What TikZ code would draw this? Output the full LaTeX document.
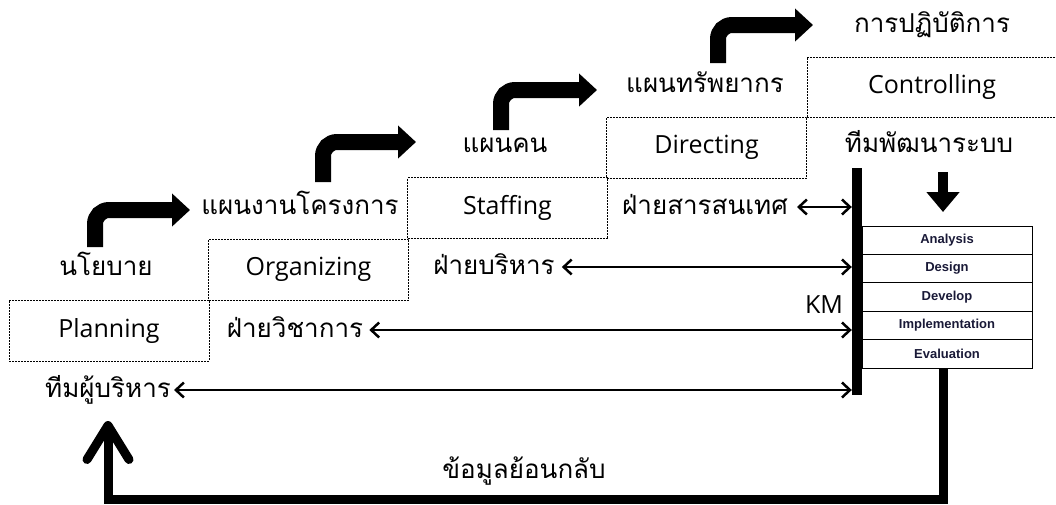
\documentclass[tikz,border=0pt]{standalone}
\usepackage{fontspec}
\setmainfont{Open Sans}
\newfontfamily\thaifont[Script=Thai]{Loma}
\newfontfamily\boxfont{Liberation Sans}
\usetikzlibrary{arrows.meta,positioning}
\definecolor{boxtext}{RGB}{25,25,55}
\tikzset{
  stage/.style={draw, dash pattern=on 2pt off 1pt, line width=0.8pt,
    minimum width=200pt, minimum height=61pt, inner sep=0pt,
    font=\fontsize{25}{30}\selectfont},
  thai/.style={inner sep=3pt, text height=21pt, text depth=7pt,
    font=\thaifont\fontsize{26}{31}\selectfont},
  phase/.style={draw, line width=1pt, minimum width=170pt, minimum height=28.4pt,
    inner sep=0pt, outer sep=0pt, text=boxtext,
    font=\boxfont\bfseries\fontsize{13}{15}\selectfont},
  bent/.style={line width=16pt, rounded corners=14pt,
    -{Triangle[length=18pt,width=32pt]}},
  link/.style={line width=2.5pt,
    {Straight Barb[length=8pt,width=15pt]}-{Straight Barb[length=8pt,width=15pt]}},
}
\begin{document}
\begin{tikzpicture}[x=1pt,y=-1pt]
\useasboundingbox (0,0) rectangle (1056,504);
% the staircase
\node[stage] (planning) at (109,330.5) {Planning};
\node[stage] (organizing) at (308.5,269.5) {Organizing};
\node[stage] (staffing) at (507.5,208) {Staffing};
\node[stage] (directing) at (706.5,147.5) {Directing};
\node[stage, minimum width=250pt, minimum height=60pt] (controlling) at (932,87) {Controlling};
% plans above the steps
\node[thai] (policy) at (106,268) {นโยบาย};
\node[thai] (project) at (300,207) {แผนงานโครงการ};
\node[thai] (manpower) at (505,145) {แผนคน};
\node[thai] (resource) at (705,85) {แผนทรัพยากร};
\node[thai] (operation) at (932,25) {การปฏิบัติการ};
\coordinate (s1) at (95,247);  \coordinate (e1) at (190,210);
\coordinate (s2) at (323,182); \coordinate (e2) at (416,142);
\coordinate (s3) at (501,130); \coordinate (e3) at (597,90);
\coordinate (s4) at (718,63);  \coordinate (e4) at (813,25);
\draw[bent] (s1) |- (e1);
\draw[bent] (s2) |- (e2);
\draw[bent] (s3) |- (e3);
\draw[bent] (s4) |- (e4);
% departments and KM
\node[thai] (infodept) at (705,207) {ฝ่ายสารสนเทศ};
\node[thai] (admindept) at (494,267) {ฝ่ายบริหาร};
\node[thai] (acaddept) at (295,330) {ฝ่ายวิชาการ};
\node[thai] (exec) at (108,390) {ทีมผู้บริหาร};
\node[fill, minimum width=10pt, minimum height=227pt, inner sep=0pt] (km) at (857,281.5) {};
\node[font=\fontsize{25}{30}\selectfont] (kmlabel) at (824,305) {KM};
\draw[link, shorten <=6pt] (infodept.east) -- (infodept.east -| km.west);
\draw[link, shorten <=4pt] (admindept.east) -- (admindept.east -| km.west);
\draw[link, shorten <=3pt] (acaddept.east) -- (acaddept.east -| km.west);
\draw[link] (exec.east) -- (exec.east -| km.west);
% system development
\node[thai] (devteam) at (929,145) {ทีมพัฒนาระบบ};
\node[phase] (analysis) at (947,240.2) {Analysis};
\node[phase, below=0pt of analysis] (design) {Design};
\node[phase, below=0pt of design] (develop) {Develop};
\node[phase, below=0pt of develop] (implement) {Implementation};
\node[phase, below=0pt of implement] (evaluation) {Evaluation};
\draw[line width=10pt, -{Triangle[length=20pt,width=32pt]}]
  ([xshift=-4pt,yshift=54pt]analysis.north) -- ([xshift=-4pt,yshift=14pt]analysis.north);
% feedback
\node[thai] (feedback) at (524,471) {ข้อมูลย้อนกลับ};
\coordinate (fbtip) at (108,421);
\draw[line width=9pt, -{Straight Barb[round,length=34pt,width=42pt]}]
  ([xshift=-4pt]evaluation.south) -- ++(0,131) -| (fbtip);
\end{tikzpicture}
\end{document}
